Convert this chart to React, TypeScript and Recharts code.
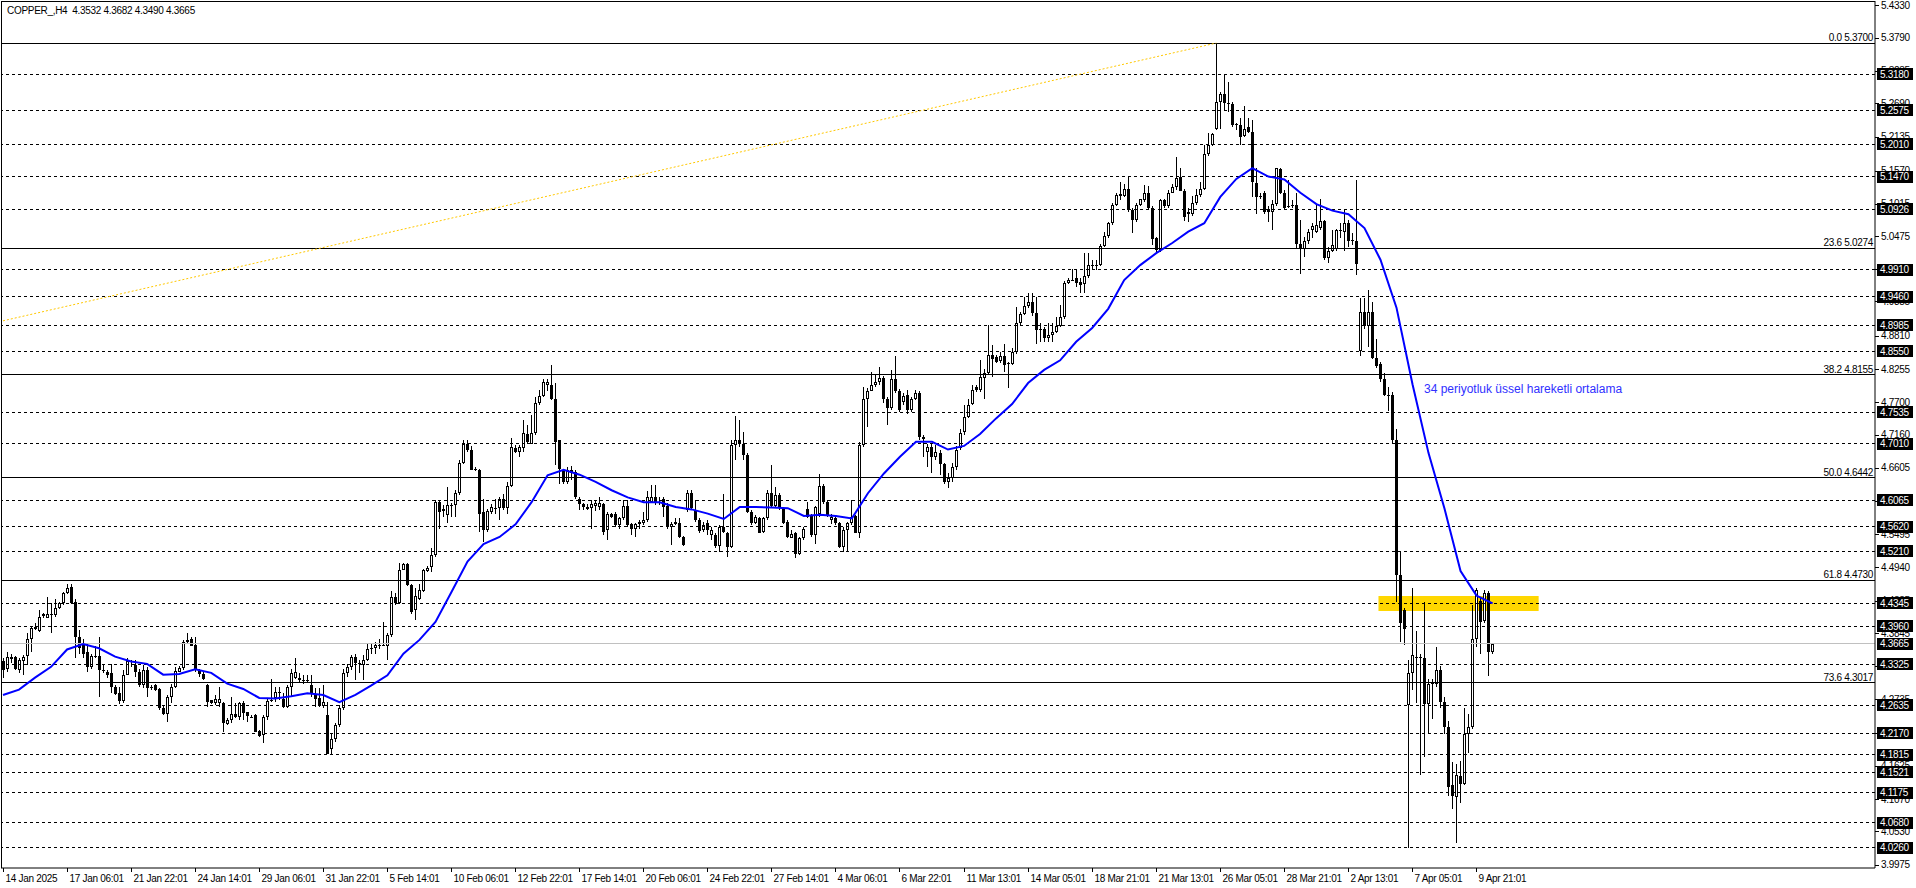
import { Bar, ComposedChart, Line, ReferenceArea, ReferenceLine, XAxis, YAxis } from "recharts"

// COPPER H4 candles
const opens = [
  4.338, 4.325, 4.341, 4.344, 4.323, 4.338, 4.346, 4.374, 4.392, 4.388,
  4.413, 4.41, 4.417, 4.414, 4.426, 4.434, 4.452, 4.462, 4.437, 4.378,
  4.367, 4.353, 4.327, 4.346, 4.346, 4.322, 4.32, 4.317, 4.294, 4.284,
  4.271, 4.315, 4.338, 4.331, 4.32, 4.297, 4.323, 4.292, 4.297, 4.291,
  4.26, 4.25, 4.278, 4.295, 4.32, 4.326, 4.37, 4.374, 4.364, 4.323,
  4.316, 4.297, 4.272, 4.267, 4.267, 4.267, 4.232, 4.239, 4.25, 4.245,
  4.267, 4.252, 4.245, 4.247, 4.221, 4.214, 4.244, 4.272, 4.276, 4.286,
  4.275, 4.261, 4.295, 4.31, 4.31, 4.306, 4.306, 4.297, 4.281, 4.276,
  4.262, 4.248, 4.19, 4.207, 4.231, 4.259, 4.317, 4.328, 4.345, 4.335,
  4.331, 4.339, 4.357, 4.359, 4.364, 4.365, 4.363, 4.381, 4.444, 4.434,
  4.49, 4.5, 4.465, 4.423, 4.442, 4.455, 4.488, 4.494, 4.515, 4.604,
  4.588, 4.582, 4.598, 4.598, 4.619, 4.668, 4.701, 4.69, 4.659, 4.657,
  4.586, 4.557, 4.587, 4.594, 4.593, 4.609, 4.593, 4.63, 4.694, 4.687,
  4.693, 4.717, 4.701, 4.718, 4.768, 4.78, 4.799, 4.799, 4.776, 4.707,
  4.657, 4.637, 4.656, 4.654, 4.609, 4.6, 4.595, 4.593, 4.596, 4.595,
  4.6, 4.557, 4.584, 4.584, 4.565, 4.576, 4.597, 4.567, 4.558, 4.566,
  4.568, 4.573, 4.604, 4.611, 4.601, 4.609, 4.597, 4.562, 4.567, 4.568,
  4.545, 4.59, 4.618, 4.59, 4.573, 4.556, 4.568, 4.548, 4.548, 4.53,
  4.561, 4.552, 4.529, 4.698, 4.707, 4.7, 4.682, 4.587, 4.568, 4.576,
  4.554, 4.576, 4.618, 4.596, 4.615, 4.593, 4.57, 4.544, 4.552, 4.517,
  4.543, 4.591, 4.581, 4.548, 4.584, 4.63, 4.604, 4.573, 4.576, 4.569,
  4.529, 4.556, 4.568, 4.58, 4.552, 4.698, 4.775, 4.789, 4.799, 4.803,
  4.81, 4.776, 4.76, 4.808, 4.789, 4.77, 4.782, 4.757, 4.776, 4.786,
  4.712, 4.687, 4.696, 4.678, 4.686, 4.667, 4.636, 4.643, 4.662, 4.693,
  4.72, 4.746, 4.767, 4.795, 4.79, 4.811, 4.818, 4.849, 4.845, 4.839,
  4.847, 4.834, 4.834, 4.854, 4.902, 4.917, 4.93, 4.938, 4.919, 4.89,
  4.892, 4.878, 4.882, 4.888, 4.897, 4.912, 4.969, 4.975, 4.977, 4.971,
  4.967, 4.981, 4.999, 5.0, 4.999, 5.031, 5.048, 5.069, 5.099, 5.114,
  5.115, 5.127, 5.091, 5.075, 5.099, 5.108, 5.12, 5.094, 5.044, 5.024,
  5.108, 5.097, 5.12, 5.129, 5.147, 5.123, 5.084, 5.085, 5.102, 5.116,
  5.127, 5.185, 5.2, 5.226, 5.272, 5.285, 5.269, 5.268, 5.233, 5.233,
  5.214, 5.229, 5.222, 5.137, 5.115, 5.119, 5.092, 5.087, 5.101, 5.159,
  5.12, 5.097, 5.099, 5.099, 5.035, 5.026, 5.039, 5.057, 5.055, 5.061,
  5.072, 5.011, 5.023, 5.026, 5.057, 5.054, 5.07, 5.04, 5.039, 4.856,
  4.92, 4.897, 4.92, 4.844, 4.834, 4.809, 4.782, 4.782, 4.707, 4.481,
  4.423, 4.264, 4.317, 4.345, 4.344, 4.343, 4.266, 4.3, 4.299, 4.323,
  4.27, 4.228, 4.131, 4.11, 4.146, 4.133, 4.215, 4.228, 4.374, 4.438,
  4.405, 4.452, 4.3532,
]

const highs = [
  4.342, 4.352, 4.35, 4.346, 4.342, 4.348, 4.384, 4.395, 4.401, 4.423,
  4.418, 4.445, 4.434, 4.441, 4.437, 4.453, 4.466, 4.466, 4.441, 4.389,
  4.375, 4.367, 4.35, 4.362, 4.378, 4.331, 4.323, 4.333, 4.297, 4.295,
  4.323, 4.342, 4.339, 4.339, 4.325, 4.331, 4.328, 4.297, 4.3, 4.292,
  4.262, 4.281, 4.3, 4.328, 4.329, 4.373, 4.385, 4.378, 4.378, 4.325,
  4.32, 4.3, 4.273, 4.281, 4.295, 4.27, 4.242, 4.278, 4.267, 4.27,
  4.271, 4.253, 4.248, 4.249, 4.222, 4.247, 4.275, 4.307, 4.295, 4.295,
  4.284, 4.297, 4.324, 4.342, 4.317, 4.315, 4.314, 4.314, 4.292, 4.292,
  4.297, 4.27, 4.217, 4.235, 4.264, 4.325, 4.333, 4.348, 4.349, 4.339,
  4.348, 4.368, 4.367, 4.37, 4.374, 4.403, 4.385, 4.455, 4.452, 4.502,
  4.502, 4.502, 4.467, 4.459, 4.467, 4.492, 4.496, 4.526, 4.607, 4.607,
  4.598, 4.628, 4.601, 4.623, 4.673, 4.707, 4.707, 4.697, 4.661, 4.659,
  4.608, 4.591, 4.6, 4.609, 4.611, 4.617, 4.637, 4.71, 4.698, 4.698,
  4.741, 4.732, 4.749, 4.778, 4.79, 4.808, 4.808, 4.832, 4.802, 4.707,
  4.659, 4.662, 4.663, 4.657, 4.612, 4.601, 4.6, 4.607, 4.607, 4.612,
  4.601, 4.587, 4.585, 4.587, 4.579, 4.607, 4.607, 4.569, 4.569, 4.573,
  4.587, 4.621, 4.632, 4.632, 4.612, 4.612, 4.601, 4.57, 4.576, 4.576,
  4.546, 4.623, 4.623, 4.607, 4.576, 4.57, 4.573, 4.561, 4.551, 4.565,
  4.617, 4.554, 4.707, 4.747, 4.74, 4.721, 4.685, 4.59, 4.582, 4.579,
  4.579, 4.623, 4.665, 4.629, 4.618, 4.595, 4.573, 4.556, 4.554, 4.545,
  4.562, 4.604, 4.584, 4.597, 4.65, 4.634, 4.607, 4.584, 4.579, 4.57,
  4.562, 4.57, 4.607, 4.582, 4.704, 4.796, 4.793, 4.821, 4.816, 4.829,
  4.813, 4.779, 4.824, 4.847, 4.792, 4.785, 4.79, 4.779, 4.79, 4.788,
  4.715, 4.701, 4.701, 4.699, 4.69, 4.668, 4.651, 4.668, 4.697, 4.726,
  4.765, 4.776, 4.798, 4.798, 4.84, 4.826, 4.899, 4.865, 4.849, 4.854,
  4.868, 4.838, 4.86, 4.929, 4.921, 4.946, 4.952, 4.952, 4.946, 4.902,
  4.896, 4.902, 4.902, 4.913, 4.932, 4.973, 4.978, 4.992, 4.992, 4.977,
  5.02, 5.019, 5.007, 5.007, 5.034, 5.055, 5.071, 5.102, 5.119, 5.138,
  5.135, 5.147, 5.094, 5.103, 5.11, 5.133, 5.131, 5.097, 5.046, 5.11,
  5.11, 5.124, 5.134, 5.179, 5.162, 5.126, 5.095, 5.114, 5.127, 5.138,
  5.2, 5.219, 5.22, 5.37, 5.289, 5.316, 5.305, 5.272, 5.237, 5.244,
  5.265, 5.244, 5.242, 5.161, 5.119, 5.122, 5.097, 5.108, 5.162, 5.162,
  5.124, 5.142, 5.107, 5.119, 5.075, 5.046, 5.059, 5.07, 5.101, 5.11,
  5.075, 5.03, 5.057, 5.059, 5.07, 5.092, 5.075, 5.052, 5.141, 4.944,
  4.944, 4.958, 4.937, 4.875, 4.837, 4.818, 4.795, 4.787, 4.725, 4.521,
  4.427, 4.339, 4.459, 4.388, 4.35, 4.436, 4.308, 4.308, 4.361, 4.33,
  4.277, 4.237, 4.169, 4.166, 4.17, 4.259, 4.25, 4.432, 4.459, 4.445,
  4.456, 4.454, 4.3682,
]

const lows = [
  4.309, 4.319, 4.335, 4.322, 4.317, 4.314, 4.331, 4.353, 4.389, 4.386,
  4.409, 4.409, 4.384, 4.412, 4.425, 4.431, 4.45, 4.433, 4.342, 4.35,
  4.342, 4.32, 4.325, 4.342, 4.278, 4.317, 4.31, 4.284, 4.281, 4.266,
  4.267, 4.314, 4.328, 4.311, 4.295, 4.292, 4.278, 4.29, 4.288, 4.256,
  4.248, 4.236, 4.267, 4.292, 4.319, 4.323, 4.368, 4.362, 4.32, 4.311,
  4.306, 4.261, 4.266, 4.264, 4.261, 4.22, 4.231, 4.234, 4.242, 4.239,
  4.24, 4.236, 4.242, 4.219, 4.211, 4.201, 4.24, 4.27, 4.27, 4.272,
  4.259, 4.259, 4.278, 4.307, 4.303, 4.3, 4.301, 4.278, 4.261, 4.261,
  4.259, 4.183, 4.183, 4.203, 4.228, 4.256, 4.311, 4.323, 4.306, 4.317,
  4.306, 4.337, 4.35, 4.35, 4.357, 4.362, 4.339, 4.378, 4.431, 4.433,
  4.489, 4.463, 4.417, 4.406, 4.439, 4.453, 4.487, 4.487, 4.512, 4.559,
  4.579, 4.568, 4.579, 4.579, 4.615, 4.667, 4.687, 4.656, 4.655, 4.554,
  4.537, 4.554, 4.584, 4.584, 4.573, 4.59, 4.584, 4.629, 4.685, 4.679,
  4.687, 4.701, 4.7, 4.716, 4.765, 4.778, 4.788, 4.774, 4.665, 4.633,
  4.634, 4.633, 4.64, 4.609, 4.59, 4.59, 4.59, 4.559, 4.588, 4.59,
  4.548, 4.54, 4.576, 4.562, 4.559, 4.573, 4.562, 4.548, 4.545, 4.559,
  4.565, 4.57, 4.601, 4.598, 4.598, 4.579, 4.559, 4.531, 4.565, 4.543,
  4.53, 4.587, 4.59, 4.57, 4.552, 4.554, 4.548, 4.54, 4.526, 4.52,
  4.552, 4.512, 4.527, 4.673, 4.696, 4.673, 4.585, 4.565, 4.567, 4.551,
  4.551, 4.573, 4.593, 4.593, 4.59, 4.567, 4.544, 4.543, 4.509, 4.515,
  4.54, 4.576, 4.545, 4.533, 4.579, 4.6, 4.579, 4.567, 4.565, 4.526,
  4.52, 4.52, 4.565, 4.551, 4.543, 4.696, 4.729, 4.788, 4.796, 4.799,
  4.768, 4.732, 4.757, 4.785, 4.754, 4.765, 4.75, 4.754, 4.774, 4.707,
  4.679, 4.662, 4.651, 4.673, 4.648, 4.634, 4.626, 4.637, 4.657, 4.69,
  4.715, 4.743, 4.765, 4.787, 4.787, 4.776, 4.815, 4.812, 4.835, 4.835,
  4.821, 4.793, 4.832, 4.851, 4.899, 4.915, 4.927, 4.914, 4.867, 4.871,
  4.871, 4.871, 4.871, 4.885, 4.896, 4.909, 4.967, 4.973, 4.963, 4.952,
  4.952, 4.978, 4.992, 4.991, 4.997, 5.03, 5.045, 5.066, 5.098, 5.107,
  5.113, 5.088, 5.053, 5.071, 5.097, 5.105, 5.091, 5.032, 5.021, 5.021,
  5.094, 5.094, 5.119, 5.124, 5.122, 5.073, 5.071, 5.081, 5.099, 5.113,
  5.124, 5.181, 5.198, 5.225, 5.226, 5.258, 5.255, 5.23, 5.225, 5.2,
  5.213, 5.219, 5.113, 5.084, 5.11, 5.085, 5.071, 5.058, 5.097, 5.118,
  5.091, 5.094, 5.094, 5.026, 4.984, 5.013, 5.035, 5.044, 5.053, 5.057,
  5.008, 5.002, 5.021, 5.023, 5.044, 5.022, 5.03, 5.032, 4.982, 4.847,
  4.893, 4.862, 4.842, 4.827, 4.804, 4.78, 4.756, 4.701, 4.436, 4.37,
  4.365, 4.026, 4.29, 4.268, 4.148, 4.178, 4.215, 4.241, 4.295, 4.259,
  4.215, 4.113, 4.091, 4.033, 4.1, 4.13, 4.184, 4.224, 4.361, 4.35,
  4.401, 4.312, 4.349,
]

const closes = [
  4.323, 4.344, 4.344, 4.324, 4.339, 4.345, 4.374, 4.393, 4.394, 4.411,
  4.416, 4.416, 4.417, 4.426, 4.434, 4.452, 4.46, 4.434, 4.378, 4.359,
  4.35, 4.328, 4.346, 4.345, 4.322, 4.323, 4.314, 4.294, 4.283, 4.271,
  4.315, 4.338, 4.338, 4.319, 4.297, 4.323, 4.292, 4.294, 4.289, 4.259,
  4.25, 4.278, 4.295, 4.321, 4.326, 4.37, 4.373, 4.363, 4.323, 4.316,
  4.307, 4.27, 4.268, 4.274, 4.275, 4.234, 4.239, 4.25, 4.245, 4.267,
  4.251, 4.246, 4.244, 4.22, 4.213, 4.245, 4.271, 4.273, 4.286, 4.286,
  4.261, 4.295, 4.318, 4.319, 4.306, 4.306, 4.305, 4.285, 4.275, 4.262,
  4.269, 4.183, 4.207, 4.231, 4.259, 4.317, 4.327, 4.345, 4.335, 4.335,
  4.339, 4.357, 4.36, 4.364, 4.365, 4.364, 4.381, 4.444, 4.434, 4.49,
  4.5, 4.465, 4.42, 4.447, 4.456, 4.49, 4.493, 4.515, 4.604, 4.587,
  4.591, 4.598, 4.598, 4.619, 4.668, 4.701, 4.69, 4.657, 4.657, 4.584,
  4.557, 4.589, 4.595, 4.594, 4.609, 4.593, 4.63, 4.696, 4.687, 4.695,
  4.718, 4.704, 4.718, 4.768, 4.78, 4.804, 4.804, 4.776, 4.704, 4.659,
  4.637, 4.657, 4.651, 4.611, 4.6, 4.595, 4.591, 4.6, 4.602, 4.601,
  4.554, 4.584, 4.579, 4.565, 4.576, 4.597, 4.565, 4.558, 4.566, 4.57,
  4.573, 4.612, 4.611, 4.601, 4.604, 4.595, 4.562, 4.567, 4.57, 4.545,
  4.531, 4.618, 4.593, 4.573, 4.555, 4.565, 4.556, 4.557, 4.53, 4.561,
  4.554, 4.529, 4.698, 4.707, 4.7, 4.682, 4.587, 4.568, 4.579, 4.552,
  4.576, 4.618, 4.596, 4.615, 4.593, 4.568, 4.545, 4.55, 4.517, 4.543,
  4.559, 4.579, 4.548, 4.595, 4.63, 4.604, 4.582, 4.579, 4.568, 4.529,
  4.556, 4.568, 4.579, 4.552, 4.698, 4.775, 4.789, 4.799, 4.803, 4.81,
  4.776, 4.76, 4.808, 4.789, 4.757, 4.78, 4.757, 4.776, 4.786, 4.712,
  4.709, 4.696, 4.679, 4.687, 4.667, 4.636, 4.643, 4.662, 4.69, 4.718,
  4.746, 4.765, 4.79, 4.79, 4.812, 4.818, 4.849, 4.843, 4.838, 4.847,
  4.832, 4.835, 4.854, 4.903, 4.917, 4.93, 4.938, 4.919, 4.89, 4.892,
  4.878, 4.882, 4.888, 4.897, 4.912, 4.969, 4.975, 4.975, 4.969, 4.966,
  4.981, 4.999, 5.0, 4.999, 5.031, 5.048, 5.069, 5.099, 5.116, 5.117,
  5.127, 5.091, 5.075, 5.099, 5.109, 5.12, 5.094, 5.042, 5.024, 5.108,
  5.097, 5.12, 5.129, 5.144, 5.123, 5.079, 5.088, 5.102, 5.116, 5.127,
  5.185, 5.2, 5.218, 5.272, 5.285, 5.269, 5.268, 5.233, 5.234, 5.213,
  5.227, 5.222, 5.138, 5.113, 5.114, 5.088, 5.087, 5.101, 5.161, 5.12,
  5.094, 5.098, 5.1, 5.035, 5.026, 5.039, 5.054, 5.064, 5.066, 5.072,
  5.011, 5.023, 5.032, 5.057, 5.058, 5.07, 5.039, 5.041, 5.001, 4.92,
  4.897, 4.92, 4.844, 4.831, 4.809, 4.782, 4.781, 4.707, 4.481, 4.401,
  4.392, 4.317, 4.348, 4.345, 4.345, 4.266, 4.299, 4.302, 4.323, 4.27,
  4.228, 4.128, 4.113, 4.148, 4.133, 4.215, 4.228, 4.374, 4.456, 4.403,
  4.452, 4.352, 4.3665,
]

// 34 EMA, read every 4th bar
const ema34 = [
  4.281, 4.29, 4.31, 4.328, 4.357, 4.366, 4.359, 4.345, 4.337, 4.333,
  4.315, 4.316, 4.324, 4.318, 4.3, 4.291, 4.276, 4.275, 4.279, 4.284,
  4.281, 4.269, 4.281, 4.297, 4.314, 4.35, 4.373, 4.403, 4.453, 4.504,
  4.533, 4.545, 4.566, 4.603, 4.648, 4.657, 4.649, 4.637, 4.623, 4.611,
  4.603, 4.603, 4.595, 4.591, 4.584, 4.575, 4.595, 4.595, 4.594, 4.593,
  4.58, 4.582, 4.58, 4.576, 4.618, 4.651, 4.679, 4.704, 4.704, 4.691,
  4.697, 4.717, 4.743, 4.767, 4.802, 4.824, 4.84, 4.871, 4.894, 4.926,
  4.974, 4.999, 5.019, 5.036, 5.055, 5.069, 5.113, 5.143, 5.161, 5.147,
  5.142, 5.12, 5.101, 5.09, 5.084, 5.061, 5.008, 4.928, 4.8, 4.685,
  4.592, 4.488, 4.447, 4.434,
]

const timeLabels = [
  "14 Jan 2025", "17 Jan 06:01", "21 Jan 22:01", "24 Jan 14:01", "29 Jan 06:01", "31 Jan 22:01",
  "5 Feb 14:01", "10 Feb 06:01", "12 Feb 22:01", "17 Feb 14:01", "20 Feb 06:01", "24 Feb 22:01",
  "27 Feb 14:01", "4 Mar 06:01", "6 Mar 22:01", "11 Mar 13:01", "14 Mar 05:01", "18 Mar 21:01",
  "21 Mar 13:01", "26 Mar 05:01", "28 Mar 21:01", "2 Apr 13:01", "7 Apr 05:01", "9 Apr 21:01",
]

const priceTicks = [
  5.433, 5.379, 5.3235, 5.269, 5.2135, 5.157, 5.1015, 5.0475, 4.992, 4.9385,
  4.881, 4.8255, 4.77, 4.716, 4.6605, 4.605, 4.5495, 4.494, 4.4385, 4.3845,
  4.329, 4.2735, 4.218, 4.1625, 4.107, 4.053, 3.9975,
]

// horizontal levels drawn as dashed lines with black price tags
const levels = [
  5.318, 5.2575, 5.201, 5.147, 5.0926, 4.991, 4.946, 4.8985, 4.855, 4.7535,
  4.701, 4.6065, 4.562, 4.521, 4.4345, 4.396, 4.3325, 4.2635, 4.217, 4.1815,
  4.1521, 4.1175, 4.068, 4.026,
]
const lastPrice = 4.3665

const fibNames = ["0.0", "23.6", "38.2", "50.0", "61.8", "73.6"]
const fibPrices = [5.37, 5.0274, 4.8155, 4.6442, 4.473, 4.3017]

const SLOTS = 468
const AXIS_X = 1875
const AXIS_Y = 868
const FONT = "'Liberation Sans', Arial, sans-serif"

const data = Array.from({ length: SLOTS }, (_, i) => ({
  i,
  o: opens[i],
  h: highs[i],
  l: lows[i],
  c: closes[i],
  ema: i % 4 === 0 && i / 4 < ema34.length ? ema34[i / 4] : null,
}))

const tagged = [...levels, lastPrice]

function Candle(props: any) {
  const { x, y, width, height, payload } = props
  if (!payload || payload.h == null) return null
  const { o, h, l, c } = payload
  const top = Math.min(y, y + height)
  const span = Math.abs(height)
  const k = h > l ? span / (h - l) : 0
  const py = (v: number) => top + (h - v) * k
  const cx = Math.floor(x + width / 2)
  const yh = Math.round(py(h))
  const yl = Math.round(py(l))
  const bt = Math.round(py(Math.max(o, c)))
  const bb = Math.round(py(Math.min(o, c)))
  let body
  if (bb - bt <= 1) {
    body = <rect x={cx - 1} y={bt} width={3} height={1} fill="#000" />
  } else if (c >= o) {
    body = <rect x={cx - 0.5} y={bt + 0.5} width={2} height={bb - bt - 1} fill="#fff" stroke="#000" strokeWidth={1} />
  } else {
    body = <rect x={cx - 1} y={bt} width={3} height={bb - bt} fill="#000" />
  }
  return (
    <g>
      <rect x={cx} y={yh} width={1} height={Math.max(yl - yh, 1)} fill="#000" />
      {body}
    </g>
  )
}

function TimeTick(props: any) {
  const { x, payload } = props
  const label = timeLabels[Math.round(payload.value / 16)]
  const px = Math.floor(x) + 0.5
  return (
    <g>
      <line x1={px} x2={px} y1={AXIS_Y} y2={AXIS_Y + 4} stroke="#000" />
      <text x={px + 2} y={AXIS_Y + 14} fontSize={10} letterSpacing={-0.3} fontFamily={FONT} fill="#000">
        {label}
      </text>
    </g>
  )
}

function PriceTick(props: any) {
  const { y, payload } = props
  const v = payload.value as number
  const py = Math.round(y) + 0.5
  if (tagged.includes(v)) {
    return (
      <g>
        <rect x={AXIS_X + 2} y={Math.round(y) - 6} width={36} height={12} fill="#000" />
        <text x={AXIS_X + 5} y={y + 3.5} fontSize={10} letterSpacing={-0.3} fontFamily={FONT} fill="#fff">
          {v.toFixed(4)}
        </text>
      </g>
    )
  }
  return (
    <g>
      <line x1={AXIS_X} x2={AXIS_X + 4} y1={py} y2={py} stroke="#000" />
      <text x={AXIS_X + 6} y={y + 3.5} fontSize={10} letterSpacing={-0.3} fontFamily={FONT} fill="#000">
        {v.toFixed(4)}
      </text>
    </g>
  )
}

function FibLabel(props: any) {
  const vb = props.viewBox || {}
  const y = vb.y ?? 0
  return (
    <text x={AXIS_X - 2} y={y - 2} textAnchor="end" fontSize={10} letterSpacing={-0.3} fontFamily={FONT} fill="#000">
      {props.text}
    </text>
  )
}

export default function App() {
  const header = `COPPER_,H4  ${opens[372].toFixed(4)} ${highs[372].toFixed(4)} ${lows[372].toFixed(4)} ${closes[372].toFixed(4)}`
  const tickIdx = timeLabels.map((_, k) => k * 16)
  return (
    <div style={{ position: "fixed", left: 0, top: 0, width: 1916, height: 888, background: "#fff", fontFamily: FONT }}>
      <ComposedChart
        width={1916}
        height={888}
        data={data}
        margin={{ top: 1, right: 0, bottom: 0, left: 1 }}
        barCategoryGap={0}
        barGap={0}
      >
        <XAxis
          dataKey="i"
          type="category"
          ticks={tickIdx}
          interval={0}
          height={20}
          tickLine={false}
          axisLine={{ stroke: "#000" }}
          tick={<TimeTick />}
        />
        <YAxis
          orientation="right"
          type="number"
          domain={[3.992, 5.4402]}
          allowDataOverflow
          ticks={[...priceTicks, ...tagged]}
          interval={0}
          width={41}
          tickLine={false}
          axisLine={{ stroke: "#000" }}
          tick={<PriceTick />}
        />
        <ReferenceArea x1={344} x2={383} y1={4.4213} y2={4.4463} fill="#ffd700" fillOpacity={1} stroke="none" />
        {levels.map((v) => (
          <ReferenceLine key={v} y={v} stroke="#000" strokeDasharray="3 3" shapeRendering="crispEdges" />
        ))}
        <ReferenceLine y={lastPrice} stroke="#c0c0c0" shapeRendering="crispEdges" />
        {fibPrices.map((v, k) => (
          <ReferenceLine
            key={"f" + v}
            y={v}
            stroke="#000"
            shapeRendering="crispEdges"
            label={<FibLabel text={`${fibNames[k]} ${v.toFixed(4)}`} />}
          />
        ))}
        <ReferenceLine
          segment={[
            { x: 0, y: 4.906 },
            { x: 303, y: 5.37 },
          ]}
          stroke="#ffc800"
          strokeDasharray="2 2"
        />
        <Bar
          dataKey={(d: any) => (d.h == null ? null : [d.l, d.h])}
          shape={(p: any) => <Candle {...p} />}
          isAnimationActive={false}
        />
        <Line
          dataKey="ema"
          type="linear"
          stroke="#0000ff"
          strokeWidth={2}
          dot={false}
          activeDot={false}
          connectNulls
          isAnimationActive={false}
        />
      </ComposedChart>
      <div
        style={{
          position: "absolute",
          left: 1,
          top: 1,
          width: AXIS_X - 1,
          height: AXIS_Y - 1,
          borderLeft: "1px solid #000",
          borderTop: "1px solid #000",
          boxSizing: "border-box",
          pointerEvents: "none",
        }}
      />
      <div style={{ position: "absolute", left: 7, top: 5, fontSize: 10, letterSpacing: -0.3, whiteSpace: "pre", color: "#000" }}>
        {header}
      </div>
      <div style={{ position: "absolute", left: 1424, top: 382, fontSize: 12, whiteSpace: "pre", color: "#3030ff" }}>
        34 periyotluk üssel hareketli ortalama
      </div>
    </div>
  )
}
